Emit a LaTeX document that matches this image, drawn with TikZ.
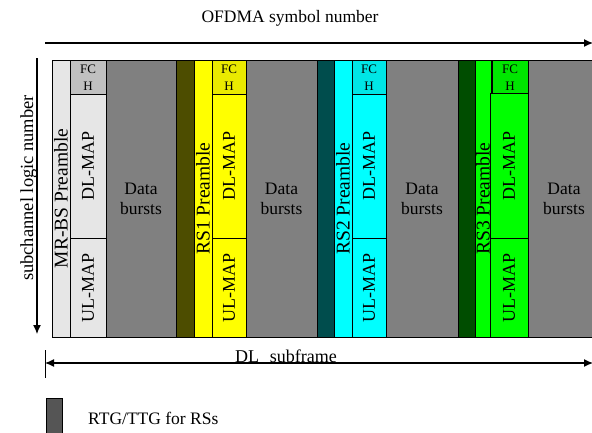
\documentclass[tikz,border=0pt]{standalone}
\usepackage{fontspec}
\setmainfont{Liberation Serif}
\usetikzlibrary{arrows.meta}
\definecolor{lgray}{HTML}{E6E6E6}
\definecolor{mgray}{HTML}{C0C0C0}
\definecolor{dgray}{HTML}{808080}
\definecolor{olive}{HTML}{4D4D00}
\definecolor{yel}{HTML}{FFFF00}
\definecolor{yelf}{HTML}{EAEA00}
\definecolor{teal}{HTML}{004D4D}
\definecolor{cya}{HTML}{00FFFF}
\definecolor{cyaf}{HTML}{00E6E6}
\definecolor{dgreen}{HTML}{004D00}
\definecolor{gre}{HTML}{00FF00}
\definecolor{gref}{HTML}{00E600}
\definecolor{legc}{HTML}{555555}
\tikzset{
  blk/.style={draw=black, line width=1pt, inner sep=0pt, outer sep=0pt},
  hlab/.style={font=\fontsize{17.5}{20}\selectfont, inner sep=0pt, align=center},
  maplab/.style={font=\fontsize{18}{20}\selectfont, rotate=90, inner sep=0pt},
  prelab/.style={font=\fontsize{19.5}{22}\selectfont, rotate=90, inner sep=0pt},
  fchlab/.style={font=\fontsize{13}{17}\selectfont, inner sep=0pt, align=center},
  axis/.style={line width=1.2pt, -{Latex[length=9pt,width=8pt]}},
}
\newcommand{\blkbox}[6]{\node[blk, fill=#6, minimum width={#3-#2}, minimum height={#5-#4}] (#1) at ({(#2+#3)/2},{(#4+#5)/2}) {};}
\begin{document}
\begin{tikzpicture}[x=1pt,y=-1pt]
\useasboundingbox (0,0) rectangle (592,432);
\clip (0,0) rectangle (592,432);
% MR-BS
\blkbox{mrpre}{52}{70}{60}{337}{lgray}
\blkbox{mrfch}{70}{106}{60}{94}{mgray}
\blkbox{mrdl}{70}{106}{94}{238}{lgray}
\blkbox{mrul}{70}{106}{238}{337}{lgray}
\blkbox{mrdata}{106}{176}{60}{337}{dgray}
% RS1
\blkbox{gapa}{176}{194}{60}{337}{olive}
\blkbox{apre}{194}{212}{60}{337}{yel}
\blkbox{afch}{212}{246}{60}{94}{yelf}
\blkbox{adl}{212}{246}{94}{238}{yel}
\blkbox{aul}{212}{246}{238}{337}{yel}
\blkbox{adata}{246}{317}{60}{337}{dgray}
% RS2
\blkbox{gapb}{317}{334}{60}{337}{teal}
\blkbox{bpre}{334}{352}{60}{337}{cya}
\blkbox{bfch}{352}{386}{60}{94}{cyaf}
\blkbox{bdl}{352}{386}{94}{238}{cya}
\blkbox{bul}{352}{386}{238}{337}{cya}
\blkbox{bdata}{386}{458}{60}{337}{dgray}
% RS3
\blkbox{gapc}{458}{475}{60}{337}{dgreen}
\blkbox{cpre}{475}{491}{60}{337}{gre}
\blkbox{cfch}{492}{528}{60}{93}{gref}
\blkbox{cdl}{490}{528}{93}{238}{gre}
\blkbox{cul}{490}{528}{238}{337}{gre}
\blkbox{cdata}{528}{600}{60}{337}{dgray}
% labels
\node[prelab] (t1) at (mrpre.center) {MR-BS Preamble};
\node[prelab] (t2) at (apre.center) {RS1 Preamble};
\node[prelab] (t3) at (bpre.center) {RS2 Preamble};
\node[prelab] (t4) at (cpre.center) {RS3 Preamble};
\foreach \p in {mr,a,b,c}{
  \node[fchlab] (\p fchT) at ([yshift=-1pt]\p fch.center) {FC\\H};
  \node[maplab] (\p dlT) at (\p dl.center) {DL-MAP};
  \node[maplab] (\p ulT) at (\p ul.center) {UL-MAP};
  \node[hlab] (\p dataT) at (\p data.center) {Data\\bursts};
}
% axes
\node[hlab, anchor=base] (title) at (290,22) {OFDMA symbol number};
\coordinate (ta) at (45,43);
\coordinate (tb) at (593,43);
\draw[axis] (ta) -- (tb);
\node[font=\fontsize{18.5}{20}\selectfont, rotate=90, anchor=base, inner sep=0pt] (vlab) at (33,188) {subchannel logic number};
\coordinate (va) at (37,58);
\coordinate (vb) at (37,334);
\draw[axis] (va) -- (vb);
% DL subframe
\coordinate (dt1) at (45,350);
\coordinate (dt2) at (45,378);
\draw[line width=1pt] (dt1) -- (dt2);
\coordinate (da) at (45,363);
\coordinate (db) at (593,363);
\draw[line width=1.2pt, {Latex[length=9pt,width=8pt]}-{Latex[length=9pt,width=8pt]}] (da) -- (db);
\node[font=\fontsize{18}{20}\selectfont, inner sep=0pt, anchor=base] (dlsub) at (286,362) {DL\hspace{0.6em}subframe};
% legend
\node[blk, fill=legc, minimum width=16, minimum height=40, anchor=north west] (leg) at (46,398) {};
\node[hlab, anchor=west] (legT) at (88,418) {RTG/TTG for RSs};
\end{tikzpicture}
\end{document}
